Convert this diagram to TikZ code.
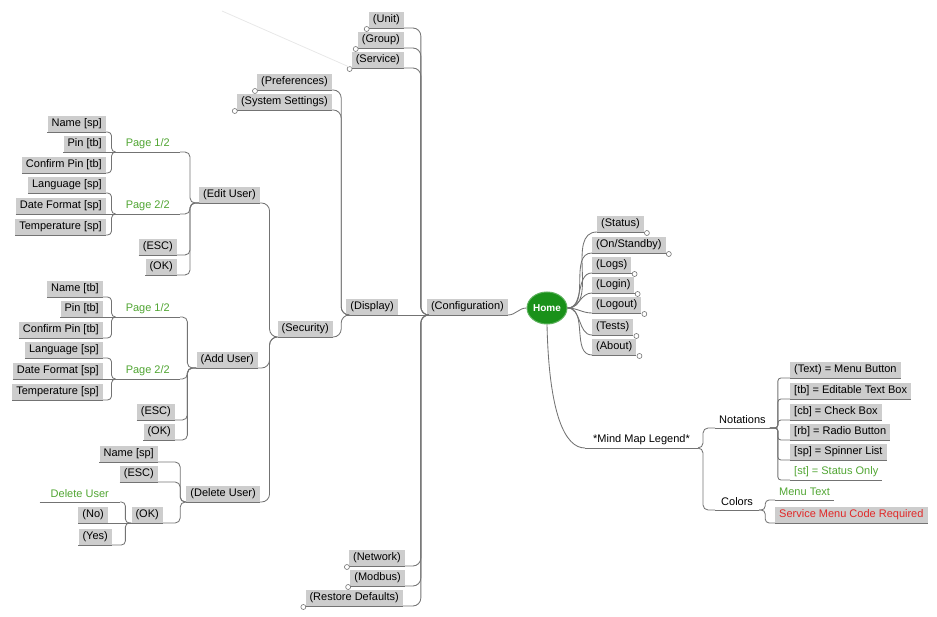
\documentclass[tikz,border=0pt]{standalone}
\usepackage{fontspec}
\setmainfont{Liberation Sans}
\usetikzlibrary{shapes.geometric}
\definecolor{boxgray}{RGB}{205,205,205}
\definecolor{linegray}{RGB}{115,115,115}
\definecolor{mapgreen}{RGB}{80,165,50}
\definecolor{mapred}{RGB}{225,40,40}
\definecolor{homegreen}{RGB}{25,145,25}
\newcommand{\mapfont}{\fontsize{11}{12}\selectfont}
\begin{document}
\begin{tikzpicture}[x=1pt,y=-1pt,
  uline/.style={draw=linegray,line width=0.9pt},
  topic/.style={fill=boxgray,font=\mapfont,inner xsep=4pt,inner ysep=2pt,minimum height=16pt,
    append after command={(\tikzlastnode.south west) edge[uline] (\tikzlastnode.south east)}},
  textonly/.style={font=\mapfont,inner xsep=5pt,inner ysep=2pt,minimum height=16pt,
    append after command={(\tikzlastnode.south west) edge[uline] (\tikzlastnode.south east)}},
  wbox/.style={topic,anchor=south east},
  ebox/.style={topic,anchor=south west},
  wtext/.style={textonly,anchor=south east},
  etext/.style={textonly,anchor=south west},
  branch/.style={draw=linegray,line width=0.85pt,rounded corners=5pt},
  foldmark/.style={draw=linegray,fill=white,line width=0.6pt}]
\useasboundingbox (0,0) rectangle (937,617);

\node[ellipse,fill=homegreen,draw=homegreen!70!white,line width=1pt,minimum width=40pt,
  minimum height=32pt,inner sep=0pt,text=white,font=\bfseries\fontsize{10}{11}\selectfont]
  (home) at (547,308) {Home};

% left half
\node[wbox] (config) at (508,315) {(Configuration)};
\node[wbox] (display) at (398,315) {(Display)};
\node[wbox] (unit) at (404,28) {(Unit)};
\node[wbox] (group) at (404,48) {(Group)};
\node[wbox] (service) at (404,68) {(Service)};
\node[wbox] (network) at (405,566) {(Network)};
\node[wbox] (modbus) at (405,586) {(Modbus)};
\node[wbox] (restore) at (403,606) {(Restore Defaults)};
\node[wbox] (prefs) at (332,90) {(Preferences)};
\node[wbox] (syset) at (332,110) {(System Settings)};
\node[wbox] (security) at (333,337) {(Security)};
\node[wbox] (edituser) at (260,203) {(Edit User)};
\node[wbox] (adduser) at (258,368) {(Add User)};
\node[wbox] (deluser) at (260,502) {(Delete User)};

\node[wbox] (eu-name) at (106,132) {Name [sp]};
\node[wbox] (eu-pin) at (106,152) {Pin [tb]};
\node[wbox] (eu-cpin) at (106,173) {Confirm Pin [tb]};
\node[wbox] (eu-lang) at (106,193) {Language [sp]};
\node[wbox] (eu-date) at (106,214) {Date Format [sp]};
\node[wbox] (eu-temp) at (106,235) {Temperature [sp]};
\node[wtext,text=mapgreen,inner xsep=10pt] (eu-p1) at (180,152) {Page 1/2};
\node[wtext,text=mapgreen,inner xsep=10pt] (eu-p2) at (180,214) {Page 2/2};
\node[wbox] (eu-esc) at (177,255) {(ESC)};
\node[wbox] (eu-ok) at (177,275) {(OK)};

\node[wbox] (au-name) at (103,297) {Name [tb]};
\node[wbox] (au-pin) at (103,317) {Pin [tb]};
\node[wbox] (au-cpin) at (103,338) {Confirm Pin [tb]};
\node[wbox] (au-lang) at (103,358) {Language [sp]};
\node[wbox] (au-date) at (103,379) {Date Format [sp]};
\node[wbox] (au-temp) at (103,400) {Temperature [sp]};
\node[wtext,text=mapgreen,inner xsep=10pt] (au-p1) at (180,317) {Page 1/2};
\node[wtext,text=mapgreen,inner xsep=10pt] (au-p2) at (180,379) {Page 2/2};
\node[wbox] (au-esc) at (175,420) {(ESC)};
\node[wbox] (au-ok) at (175,440) {(OK)};

\node[wbox] (du-name) at (158,462) {Name [sp]};
\node[wbox] (du-esc) at (158,482) {(ESC)};
\node[wbox] (du-ok) at (163,523) {(OK)};
\node[wtext,text=mapgreen,inner xsep=11pt] (du-label) at (120,502) {Delete User};
\node[wbox] (du-no) at (108,523) {(No)};
\node[wbox] (du-yes) at (112,545) {(Yes)};

% right half
\node[ebox] (status) at (597,232) {(Status)};
\node[ebox] (standby) at (592,253) {(On/Standby)};
\node[ebox] (logs) at (592,273) {(Logs)};
\node[ebox] (login) at (592,293) {(Login)};
\node[ebox] (logout) at (592,313) {(Logout)};
\node[ebox] (tests) at (592,335) {(Tests)};
\node[ebox] (about) at (592,355) {(About)};
\node[etext,inner xsep=8pt] (legend) at (585,448) {*Mind Map Legend*};
\node[etext,inner xsep=4pt] (notations) at (715,428) {Notations};
\node[etext,inner xsep=6pt] (colors) at (715,510) {Colors};
\node[ebox] (n-text) at (790,378) {(Text) = Menu Button};
\node[ebox] (n-tb) at (790,399) {[tb] = Editable Text Box};
\node[ebox] (n-cb) at (790,420) {[cb] = Check Box};
\node[ebox] (n-rb) at (790,440) {[rb] = Radio Button};
\node[ebox] (n-sp) at (790,460) {[sp] = Spinner List};
\node[etext,text=mapgreen,inner xsep=4pt] (n-st) at (790,480) {[st] = Status Only};
\node[etext,text=mapgreen,inner xsep=4pt] (c-menu) at (775,500) {Menu Text};
\node[ebox,text=mapred] (c-service) at (775,523) {Service Menu Code Required};

% connectors
\draw[branch] (home.west) to[out=180,in=0] (config.south east);
\draw[branch] (config.south west) -- (display.south east);
\draw[branch,rounded corners=8pt] (config.south west) -- ++(-6,0) |- (unit.south east);
\draw[branch,rounded corners=8pt] (config.south west) -- ++(-6,0) |- (group.south east);
\draw[branch,rounded corners=8pt] (config.south west) -- ++(-6,0) |- (service.south east);
\draw[branch,rounded corners=8pt] (config.south west) -- ++(-6,0) |- (network.south east);
\draw[branch,rounded corners=8pt] (config.south west) -- ++(-6,0) |- (modbus.south east);
\draw[branch,rounded corners=8pt] (config.south west) -- ++(-6,0) |- (restore.south east);
\draw[branch,rounded corners=8pt] (display.south west) -- ++(-5,0) |- (prefs.south east);
\draw[branch,rounded corners=8pt] (display.south west) -- ++(-5,0) |- (syset.south east);
\draw[branch,rounded corners=8pt] (display.south west) -- ++(-5,0) |- (security.south east);
\draw[branch,rounded corners=8pt] (security.south west) -- ++(-8,0) |- (edituser.south east);
\draw[branch,rounded corners=8pt] (security.south west) -- ++(-8,0) |- (adduser.south east);
\draw[branch,rounded corners=8pt] (security.south west) -- ++(-8,0) |- (deluser.south east);

\draw[branch] (edituser.south west) -- ++(-9,0) |- (eu-p1.south east);
\draw[branch] (edituser.south west) -- ++(-9,0) |- (eu-p2.south east);
\draw[branch] (edituser.south west) -- ++(-9,0) |- (eu-esc.south east);
\draw[branch] (edituser.south west) -- ++(-9,0) |- (eu-ok.south east);
\draw[branch,rounded corners=4pt] (eu-p1.south west) -- ++(-4,0) |- (eu-name.south east);
\draw[branch] (eu-p1.south west) -- (eu-pin.south east);
\draw[branch,rounded corners=4pt] (eu-p1.south west) -- ++(-4,0) |- (eu-cpin.south east);
\draw[branch,rounded corners=4pt] (eu-p2.south west) -- ++(-4,0) |- (eu-lang.south east);
\draw[branch] (eu-p2.south west) -- (eu-date.south east);
\draw[branch,rounded corners=4pt] (eu-p2.south west) -- ++(-4,0) |- (eu-temp.south east);

\draw[branch] (adduser.south west) -- ++(-9,0) |- (au-p1.south east);
\draw[branch] (adduser.south west) -- ++(-9,0) |- (au-p2.south east);
\draw[branch] (adduser.south west) -- ++(-9,0) |- (au-esc.south east);
\draw[branch] (adduser.south west) -- ++(-9,0) |- (au-ok.south east);
\draw[branch,rounded corners=4pt] (au-p1.south west) -- ++(-4,0) |- (au-name.south east);
\draw[branch] (au-p1.south west) -- (au-pin.south east);
\draw[branch,rounded corners=4pt] (au-p1.south west) -- ++(-4,0) |- (au-cpin.south east);
\draw[branch,rounded corners=4pt] (au-p2.south west) -- ++(-4,0) |- (au-lang.south east);
\draw[branch] (au-p2.south west) -- (au-date.south east);
\draw[branch,rounded corners=4pt] (au-p2.south west) -- ++(-4,0) |- (au-temp.south east);

\draw[branch] (deluser.south west) -- ++(-6,0) |- (du-name.south east);
\draw[branch] (deluser.south west) -- ++(-6,0) |- (du-esc.south east);
\draw[branch] (deluser.south west) -- ++(-6,0) |- (du-ok.south east);
\draw[branch,rounded corners=4pt] (du-ok.south west) -- ++(-6,0) |- (du-label.south east);
\draw[branch] (du-ok.south west) -- (du-no.south east);
\draw[branch,rounded corners=4pt] (du-ok.south west) -- ++(-6,0) |- (du-yes.south east);

\draw[branch] (home.east) to[out=0,in=180] (status.south west);
\draw[branch] (home.east) to[out=0,in=180] (standby.south west);
\draw[branch] (home.east) to[out=0,in=180] (logs.south west);
\draw[branch] (home.east) to[out=0,in=180] (login.south west);
\draw[branch] (home.east) to[out=0,in=180] (logout.south west);
\draw[branch] (home.east) to[out=0,in=180] (tests.south west);
\draw[branch] (home.east) to[out=0,in=180] (about.south west);
\draw[branch] (home.south) .. controls +(2,90) and +(-20,0) .. (legend.south west);
\draw[branch] (legend.south east) -- ++(5,0) |- (notations.south west);
\draw[branch] (legend.south east) -- ++(5,0) |- (colors.south west);
\draw[branch,rounded corners=3pt] (notations.south east) -- ++(8,0) |- (n-text.south west);
\draw[branch,rounded corners=3pt] (notations.south east) -- ++(8,0) |- (n-tb.south west);
\draw[branch,rounded corners=3pt] (notations.south east) -- ++(8,0) |- (n-cb.south west);
\draw[branch,rounded corners=3pt] (notations.south east) -- ++(8,0) |- (n-rb.south west);
\draw[branch,rounded corners=3pt] (notations.south east) -- ++(8,0) |- (n-sp.south west);
\draw[branch,rounded corners=3pt] (notations.south east) -- ++(8,0) |- (n-st.south west);
\draw[branch,rounded corners=4pt] (colors.south east) -- ++(6,0) |- (c-menu.south west);
\draw[branch,rounded corners=4pt] (colors.south east) -- ++(6,0) |- (c-service.south west);

% collapsed markers
\draw[foldmark] (unit.south west) ++(-2,1) circle (2.5pt);
\draw[foldmark] (group.south west) ++(-2,1) circle (2.5pt);
\draw[foldmark] (service.south west) ++(-2,1) circle (2.5pt);
\draw[foldmark] (prefs.south west) ++(-2,1) circle (2.5pt);
\draw[foldmark] (syset.south west) ++(-2,1) circle (2.5pt);
\draw[foldmark] (network.south west) ++(-2,1) circle (2.5pt);
\draw[foldmark] (modbus.south west) ++(-2,1) circle (2.5pt);
\draw[foldmark] (restore.south west) ++(-2,1) circle (2.5pt);
\draw[foldmark] (status.south east) ++(3,1) circle (2.5pt);
\draw[foldmark] (standby.south east) ++(3,1) circle (2.5pt);
\draw[foldmark] (logs.south east) ++(3,1) circle (2.5pt);
\draw[foldmark] (login.south east) ++(3,1) circle (2.5pt);
\draw[foldmark] (logout.south east) ++(3,1) circle (2.5pt);
\draw[foldmark] (tests.south east) ++(3,1) circle (2.5pt);
\draw[foldmark] (about.south east) ++(3,1) circle (2.5pt);

\coordinate (ghost) at (222,11);
\draw[draw=gray!18,line width=0.8pt] (ghost) -- (service.south west);
\end{tikzpicture}
\end{document}
